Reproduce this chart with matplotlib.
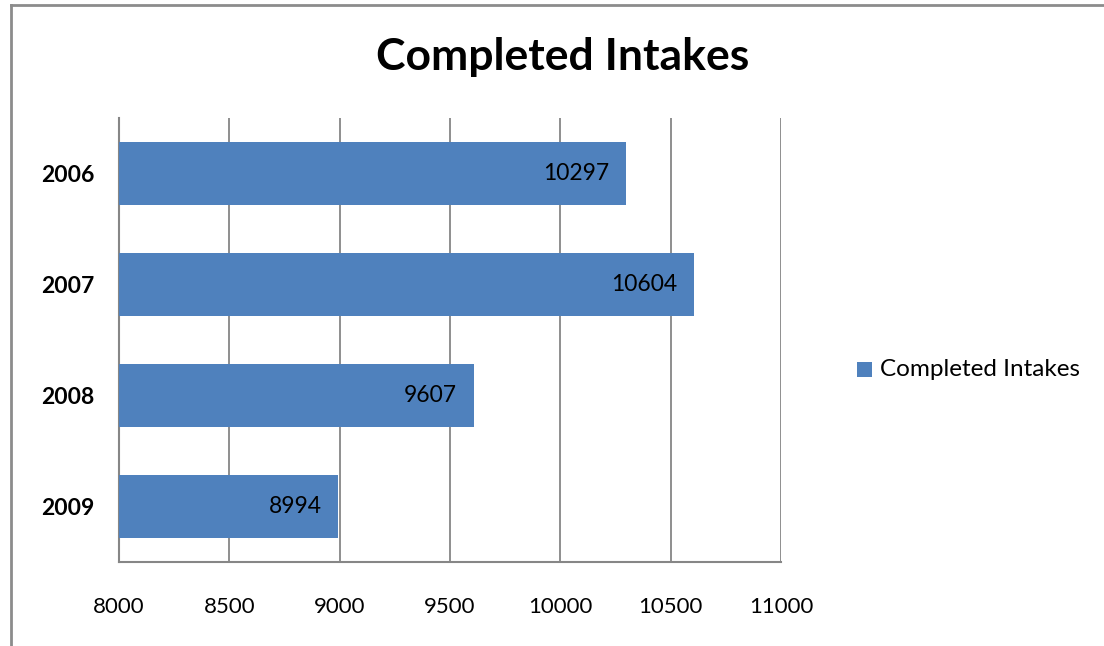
import matplotlib
matplotlib.use("Agg")
import matplotlib.pyplot as plt
from matplotlib.patches import Rectangle

years = ["2006", "2007", "2008", "2009"]
values = [10297, 10604, 9607, 8994]
xticks = [8000, 8500, 9000, 9500, 10000, 10500, 11000]
series_name = "Completed Intakes"
title = "Completed Intakes"

plt.rcParams['font.family'] = ['Lato', 'DejaVu Sans']

W, H = 1104, 646
fig = plt.figure(figsize=(W/100, H/100), dpi=100)

# outer chart border (cropped: only top and left visible)
fig.add_artist(plt.Line2D([11/W, 11/W], [0, 1 - 5/H], transform=fig.transFigure, color='#8c8c8c', lw=2))
fig.add_artist(plt.Line2D([11/W, 1], [1 - 5/H, 1 - 5/H], transform=fig.transFigure, color='#8c8c8c', lw=2))

left, right, top, bottom = 119, 781, 118, 562
ax = fig.add_axes([left/W, 1 - bottom/H, (right-left)/W, (bottom-top)/H])

ypos = list(range(len(years)))
bars = ax.barh(ypos, values, height=0.57, color='#4F81BD', left=0, zorder=3,
               label=series_name)
ax.set_xlim(xticks[0], xticks[-1])
ax.set_ylim(len(years) - 0.5, -0.5)
ax.set_xticks(xticks)
ax.set_xticklabels([str(t) for t in xticks], fontsize=16)
ax.set_yticks(ypos)
ax.set_yticklabels(years, fontsize=16.5, fontweight='bold')
ax.tick_params(axis='both', length=0)
ax.tick_params(axis='x', pad=25)
ax.tick_params(axis='y', pad=18)
ax.xaxis.grid(True, color='#868686', lw=1.3, zorder=0)
for s in ['top', 'right']:
    ax.spines[s].set_visible(False)
for s in ['left', 'bottom']:
    ax.spines[s].set_color('#868686')
    ax.spines[s].set_linewidth(1.5)

for y, v in zip(ypos, values):
    ax.text(v - 75, y, str(v), ha='right', va='center', fontsize=16.5, zorder=4)

fig.text(563/W, 1 - 57/H, title, ha='center', va='center', fontsize=32, fontweight='bold')

# legend
fig.add_artist(Rectangle((857/W, 1 - 377/H), 15/W, 15/H, transform=fig.transFigure,
                         facecolor='#4F81BD', edgecolor='none'))
fig.text(880/W, 1 - 369/H, series_name, ha='left', va='center', fontsize=17.5)

fig.savefig("out.png", dpi=100)
